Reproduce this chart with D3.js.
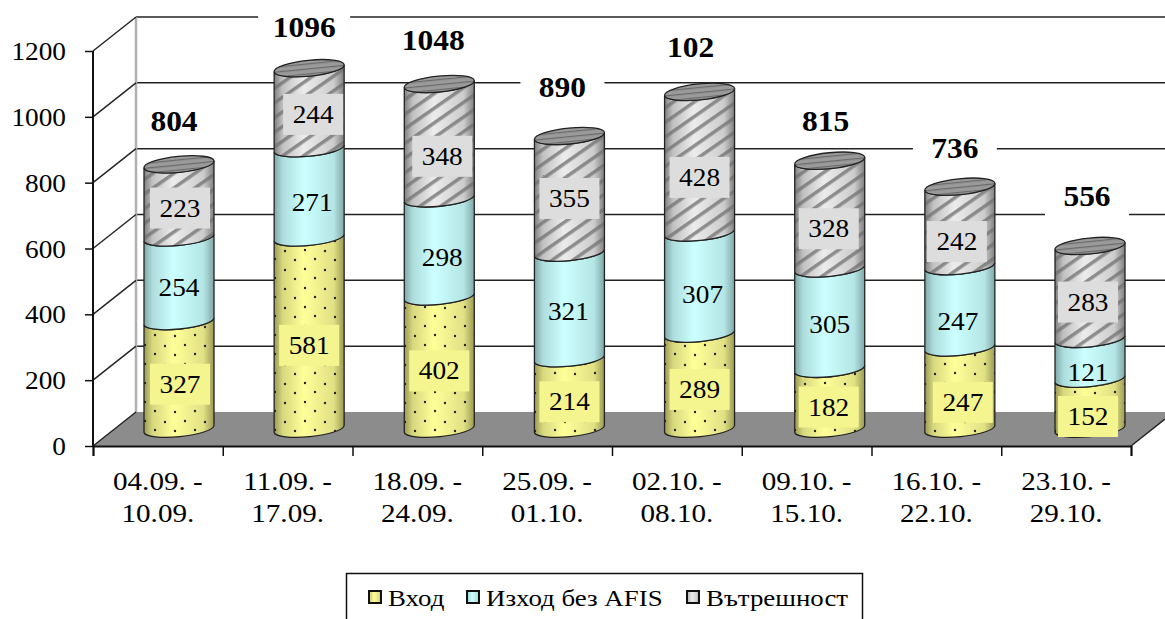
<!DOCTYPE html>
<html lang="en">
<head>
<meta charset="UTF-8" />
<title>traffic</title>
<style>
html,body{margin:0;padding:0;background:#fff}
svg{display:block}
text{font-family:"Liberation Serif","Times New Roman",serif;fill:#000}
</style>
</head>
<body>
<svg width="1165" height="619" id="mainsvg"></svg>
<script src="https://cdn.jsdelivr.net/npm/d3@7"></script>
<script>
const categories = [
	["04.09. -", "10.09."], ["11.09. -", "17.09."], ["18.09. -", "24.09."], ["25.09. -", "01.10."],
	["02.10. -", "08.10."], ["09.10. -", "15.10."], ["16.10. -", "22.10."], ["23.10. -", "29.10."],
]
const vhod = [327, 581, 402, 214, 289, 182, 247, 152]
const izhod = [254, 271, 298, 321, 307, 305, 247, 121]
const vatreshnost = [223, 244, 348, 355, 428, 328, 242, 283]
// the fifth total is cut off to "102" in the original
const totals = ["804", "1096", "1048", "890", "102", "815", "736", "556"]
const totalValues = [804, 1096, 1048, 890, 1024, 815, 736, 556]
const seriesNames = ["Вход", "Изход без AFIS", "Вътрешност"]
const yTicks = [0, 200, 400, 600, 800, 1000, 1200]

// hand placed label offsets, px
const labelDx = [
	[0, -1, -1, -1, -1, -2, 2, -3],
	[-1, 2, 2, -2, 2, -1, -3, -3],
	[0, 3, 2, -1, -1, -2, -4, -3],
]
const labelDy = [
	[-1, 2, -2, -2, -2, -2, 4, 2.5],
	[-2, -1, 0, -4, 1, -4, 4, 3],
	[-3, -4, 5, -6, 5, 4, 5, -0.5],
]
const totalNudge = [-5, -5, -6, -7, -9, -4, -5, -3]
const totalLift = [43, 41, 44, 49, 45, 40, 39, 50]

const svg = d3.select("#mainsvg")
const depthX = 43, depthY = -34
const rx = 35, ry = 8, tilt = 3.5
const x = d3.scaleBand().domain(d3.range(categories.length)).range([93, 1131])
const y = d3.scaleLinear().domain([0, 1200]).range([446, 51])
// cylinders run on a slightly wider step than the ticks
const cx = d3.scaleLinear().domain([0, 7]).range([179, 1090])
const by = (v) => y(v) + depthY / 2
const stretch = 1.05

// gradients and fill patterns
const defs = svg.append("defs")
function gradient(id, edge, mid) {
	const g = defs.append("linearGradient").attr("id", id)
	g.append("stop").attr("offset", "0%").attr("stop-color", edge)
	g.append("stop").attr("offset", "12%").attr("stop-color", d3.interpolateRgb(edge, mid)(0.6))
	g.append("stop").attr("offset", "42%").attr("stop-color", mid)
	g.append("stop").attr("offset", "85%").attr("stop-color", d3.interpolateRgb(edge, mid)(0.7))
	g.append("stop").attr("offset", "100%").attr("stop-color", edge)
}
gradient("gY", "#9a9a55", "#ffff99")
gradient("gC", "#7fa8a8", "#ccffff")
gradient("gG", "#808080", "#ececec")

const dots = defs.append("pattern").attr("id", "dots").attr("patternUnits", "userSpaceOnUse")
	.attr("width", 40).attr("height", 38)
const dotPos = [[5, 4], [25, 3], [15, 13], [35, 12], [5, 23], [25, 22], [15, 32], [35, 31]]
dots.selectAll("circle").data(dotPos).join("circle")
	.attr("cx", (d) => d[0]).attr("cy", (d) => d[1]).attr("r", 1.2).attr("fill", "#222")

const hatch = defs.append("pattern").attr("id", "hatch").attr("patternUnits", "userSpaceOnUse")
	.attr("width", 12).attr("height", 12).attr("patternTransform", "rotate(55)")
hatch.append("rect").attr("width", 3.5).attr("height", 12).attr("fill", "#707070").attr("opacity", 0.75)

const capLines = defs.append("pattern").attr("id", "capLines").attr("patternUnits", "userSpaceOnUse")
	.attr("width", 8).attr("height", 5)
capLines.append("rect").attr("width", 8).attr("height", 5).attr("fill", "#9a9a9a")
capLines.append("rect").attr("width", 8).attr("height", 1.2).attr("fill", "#6a6a6a")

// floor and back grid
const wall = svg.append("g")
wall.append("path")
	.attr("d", d3.line()([[93, y(0)], [93 + depthX, y(0) + depthY], [1131 + depthX, y(0) + depthY], [1131, y(0)]]) + "Z")
	.attr("fill", "#8c8c8c").attr("stroke", "none")
wall.selectAll(".grid").data(yTicks.slice(1)).join("line").attr("class", "grid")
	.attr("x1", 93 + depthX).attr("x2", 1165)
	.attr("y1", (d) => y(d) + depthY).attr("y2", (d) => y(d) + depthY)
	.attr("stroke", "#222").attr("stroke-width", 1.5)
wall.append("path")
	.attr("d", d3.line()([[1131, y(0)], [1165, y(0) + depthY * 34 / 43]]))
	.attr("stroke", "#222").attr("stroke-width", 1.5)

function label(g, px, py, str, size, weight, sx) {
	return g.append("text").attr("text-anchor", "middle")
		.attr("transform", `translate(${px},${py}) scale(${sx || stretch},1)`)
		.style("font-size", size + "px").style("font-weight", weight || "normal").text(str)
}

// one cylinder piece: side wall between two stacked levels
function piece(c, yBottom, yTop) {
	const a = `A${rx + 0.2},${ry},-5.7,0,0`
	const b = `A${rx + 0.2},${ry},-5.7,0,1`
	return `M${c - rx},${yTop + tilt}L${c - rx},${yBottom + tilt}${a},${c + rx},${yBottom - tilt}` +
		`L${c + rx},${yTop - tilt}${b},${c - rx},${yTop + tilt}Z`
}

const seriesStyle = [
	{ grad: "gY", over: "dots", box: "#f5f590" },
	{ grad: "gC", over: null, box: "none" },
	{ grad: "gG", over: "hatch", box: "#dddddd" },
]
const seriesValues = [vhod, izhod, vatreshnost]
const stackData = d3.stack().keys([0, 1, 2]).value((d, k) => d[k])(d3.range(8).map((i) => [vhod[i], izhod[i], vatreshnost[i]]))

const bars = svg.append("g")
const boxes = svg.append("g")
categories.forEach((c, i) => {
	const cc = cx(i)
	const g = bars.append("g")
	stackData.forEach((layer, k) => {
		const [v0, v1] = layer[i]
		const st = seriesStyle[k]
		const d = piece(cc, by(v0), by(v1))
		g.append("path").attr("d", d).attr("fill", `url(#${st.grad})`)
		if (st.over) g.append("path").attr("d", d).attr("fill", `url(#${st.over})`)
		g.append("path").attr("d", d).attr("fill", "none").attr("stroke", "#222").attr("stroke-width", 1.3)
	})
	const top = by(totalValues[i])
	g.append("ellipse").attr("transform", `translate(${cc},${top}) rotate(-5.7)`)
		.attr("rx", rx + 0.2).attr("ry", ry).attr("fill", "url(#capLines)").attr("stroke", "#222").attr("stroke-width", 1.3)

	stackData.forEach((layer, k) => {
		const [v0, v1] = layer[i]
		const my = (by(v0) + by(v1)) / 2 + 10 + labelDy[k][i]
		const mx = cc + 1 + labelDx[k][i]
		boxes.append("rect").attr("x", mx - 30).attr("y", my - 20.5).attr("width", 60).attr("height", 41)
			.attr("fill", seriesStyle[k].box)
		label(boxes, mx, my + 8.5, seriesValues[k][i], 26)
	})

	// total above the cylinder, its box hides the grid
	const tx = cc + totalNudge[i], ty = top - totalLift[i]
	const w = totals[i].length == 4 ? 92 : 84
	boxes.append("rect").attr("x", tx - w / 2).attr("y", ty - 22).attr("width", w).attr("height", 44).attr("fill", "#fff")
	label(boxes, tx, ty + 10, totals[i], 30, "bold")
})

// left wall goes over the boxes
const side = svg.append("g")
side.append("line").attr("x1", 93 + depthX).attr("x2", 93 + depthX)
	.attr("y1", y(1200) + depthY).attr("y2", y(0) + depthY)
	.attr("stroke", "#b0b0b0").attr("stroke-width", 2.5)
side.selectAll(".diag").data(yTicks).join("line").attr("class", "diag")
	.attr("x1", 93).attr("x2", 93 + depthX)
	.attr("y1", (d) => y(d)).attr("y2", (d) => y(d) + depthY)
	.attr("stroke", "#222").attr("stroke-width", 1.4)

// axes
const yAxis = svg.append("g").attr("transform", "translate(93,0)")
	.call(d3.axisLeft(y).tickValues(yTicks).tickSize(8).tickFormat((d) => d))
const xAxis = svg.append("g").attr("transform", `translate(0,${y(0)})`)
	.call(d3.axisBottom(d3.scaleLinear().domain([0, categories.length]).range(x.range()))
		.ticks(categories.length).tickSize(10).tickFormat(""))
svg.selectAll(".domain").attr("stroke", "#111").attr("stroke-width", 2)
svg.selectAll(".tick line").attr("stroke", "#111").attr("stroke-width", 1.5)
yAxis.selectAll("text").attr("x", 0).attr("dy", "0.33em")
	.attr("transform", `translate(-27,0) scale(${stretch},1)`)
	.attr("font-family", null).attr("font-size", null).style("font-size", "26px")
yAxis.select(".domain").attr("d", `M0,${y(1200)}V${y(0)}`)

categories.forEach((c, i) => {
	label(svg, x(i) + x.bandwidth() / 2, 490, c[0], 26, null, 1.12)
	label(svg, x(i) + x.bandwidth() / 2, 522, c[1], 26, null, 1.12)
})

// legend, cut by the bottom of the picture
const legend = svg.append("g")
legend.append("rect").attr("x", 346.5).attr("y", 573.5).attr("width", 516).attr("height", 60)
	.attr("fill", "#fff").attr("stroke", "#111").attr("stroke-width", 1.5)
const legendX = [369, 467, 687]
seriesNames.forEach((name, k) => {
	legend.append("rect").attr("x", legendX[k]).attr("y", 591).attr("width", 12).attr("height", 12)
		.attr("fill", `url(#${seriesStyle[k].grad})`).attr("stroke", "#111").attr("stroke-width", 2)
	legend.append("text").attr("transform", `translate(${legendX[k] + 19},606) scale(1.12,1)`)
		.style("font-size", "24px").text(name)
})
</script>
</body>
</html>
